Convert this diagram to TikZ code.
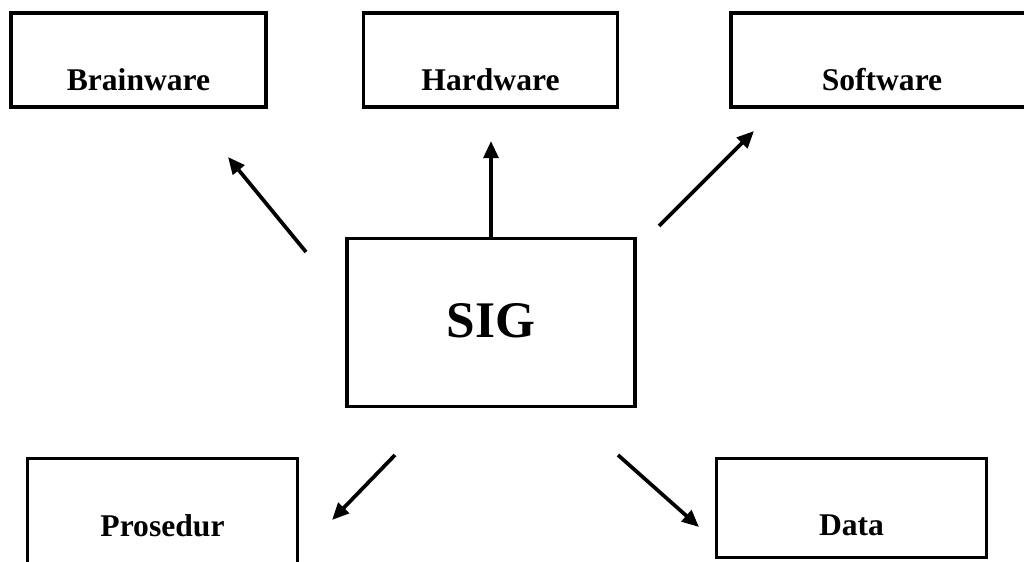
\documentclass[tikz,border=0pt]{standalone}
\usepackage{fontspec}
\setmainfont{Liberation Serif}
\usetikzlibrary{arrows.meta}
\tikzset{
  box/.style 2 args={draw, line width=2.8pt, inner sep=0pt,
    minimum width=#1*0.75pt, minimum height=#2*0.75pt},
  lbl/.style={anchor=base, inner sep=0pt,
    font=\bfseries\fontsize{23.7}{28}\selectfont},
  biglbl/.style={anchor=base, inner sep=0pt,
    font=\bfseries\fontsize{38.5}{44}\selectfont},
  link/.style={line width=2.8pt,
    -{Triangle[length=12.75pt, width=11pt]}}
}
\begin{document}
\begin{tikzpicture}[x=0.75pt, y=-0.75pt]
  % page area
  \clip (0,0) rectangle (1024,561);
  \fill[white] (0,0) rectangle (1024,561);

  % component boxes
  \node[box={255}{94}]   (brain) at (138.5,60) {};
  \node[box={254}{94}]   (hard)  at (490.5,60) {};
  \node[box={302}{94}]   (soft)  at (882,60)   {};
  \node[box={288}{168}]  (sig)   at (491,322.5) {};
  \node[box={270}{130}]  (pros)  at (162.5,523.5) {};
  \node[box={270}{99}]   (data)  at (851.5,508) {};

  % labels
  \node[lbl]    (brainT) at (138.5,90) {Brainware};
  \node[lbl]    (hardT)  at (490.5,90) {Hardware};
  \node[lbl]    (softT)  at (882,90)   {Software};
  \node[biglbl] (sigT)   at (491,337)  {SIG};
  \node[lbl]    (prosT)  at (162.5,536) {Prosedur};
  \node[lbl]    (dataT)  at (851.5,535) {Data};

  % arrow end points
  \coordinate (bS) at (306,252);
  \coordinate (bE) at (228,157);
  \coordinate (hE) at (491,141);
  \coordinate (sS) at (659,226);
  \coordinate (sE) at (754,131);
  \coordinate (pS) at (395,455);
  \coordinate (pE) at (332,520);
  \coordinate (dS) at (618,455);
  \coordinate (dE) at (699,527);

  % arrows
  \draw[link] (bS) -- (bE);
  \draw[link] (sig.north) -- (hE);
  \draw[link] (sS) -- (sE);
  \draw[link] (pS) -- (pE);
  \draw[link] (dS) -- (dE);
\end{tikzpicture}
\end{document}
